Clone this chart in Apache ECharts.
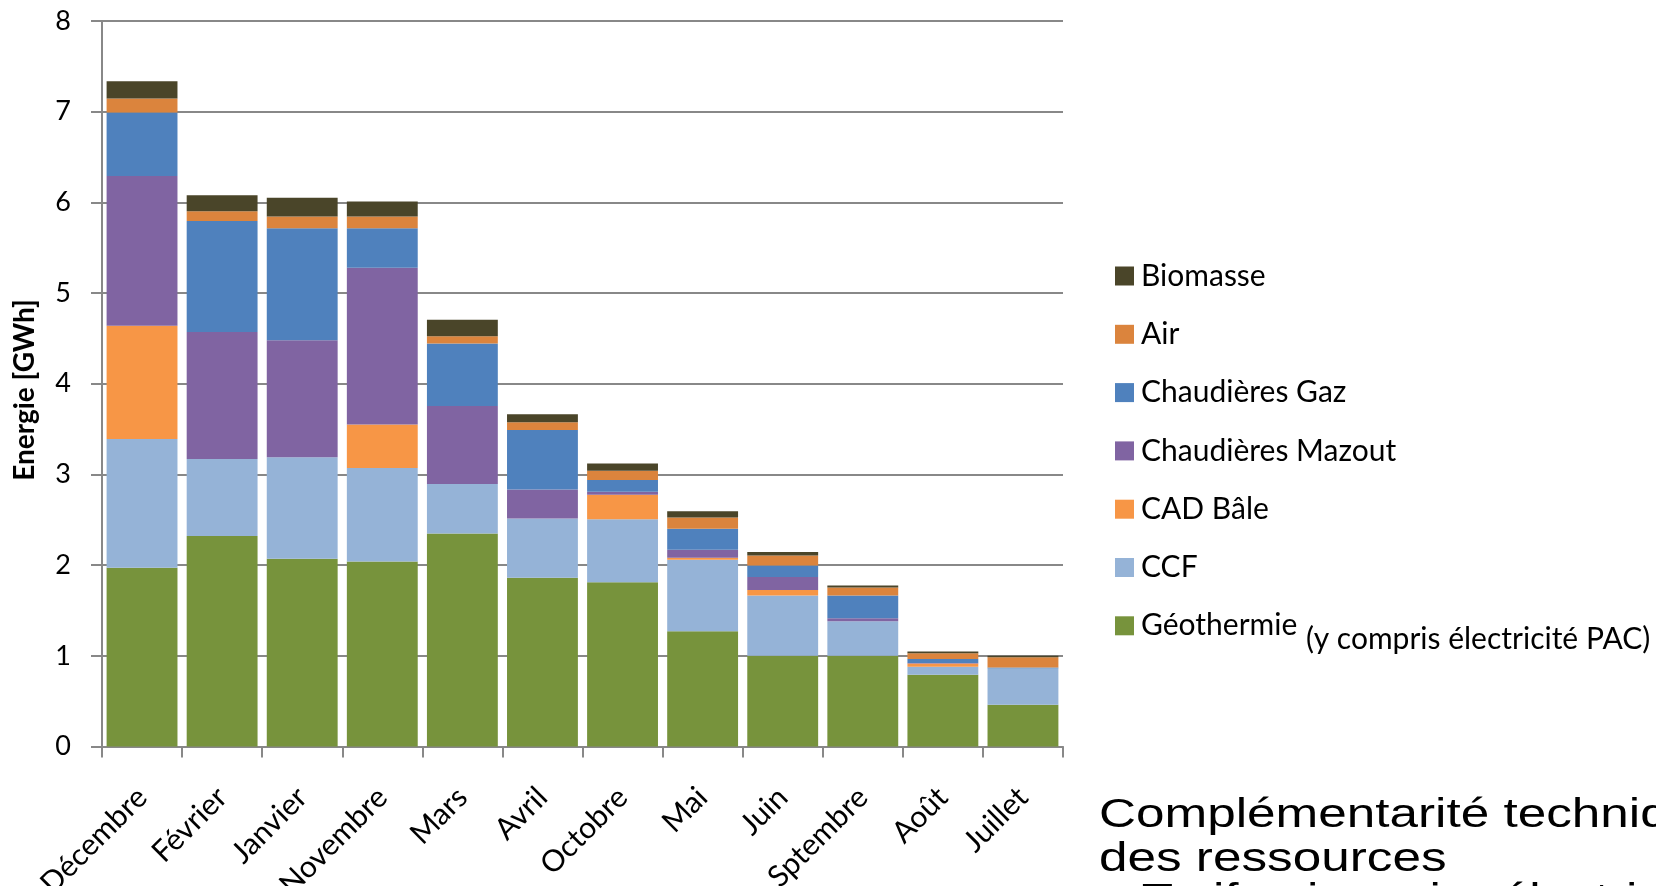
<!DOCTYPE html>
<html>
<head>
<meta charset="utf-8">
<script src="https://cdn.jsdelivr.net/npm/echarts@6/dist/echarts.min.js"></script>
<style>
  html, body { margin: 0; padding: 0; background: #fff; overflow: hidden; }
  #chart { width: 1656px; height: 886px; }
</style>
</head>
<body>
<div id="chart"></div>
<script>
// Monthly heat supply by resource, sorted by total energy
var months = ['Décembre', 'Février', 'Janvier', 'Novembre', 'Mars', 'Avril', 'Octobre', 'Mai', 'Juin', 'Sptembre', 'Août', 'Juillet'];

// Energy per resource [GWh]
var geothermie = [1.97, 2.32, 2.07, 2.04, 2.35, 1.86, 1.81, 1.27, 1.00, 1.00, 0.79, 0.46];
var ccf        = [1.42, 0.85, 1.12, 1.03, 0.545, 0.655, 0.695, 0.79, 0.665, 0.38, 0.09, 0.40];
var cadBale    = [1.25, 0, 0, 0.48, 0, 0, 0.27, 0.02, 0.06, 0, 0.035, 0];
var mazout     = [1.65, 1.40, 1.29, 1.73, 0.86, 0.32, 0.035, 0.09, 0.145, 0.035, 0.005, 0];
var gaz        = [0.70, 1.225, 1.235, 0.435, 0.69, 0.655, 0.13, 0.23, 0.125, 0.25, 0.045, 0.01];
var air        = [0.155, 0.107, 0.13, 0.13, 0.08, 0.085, 0.10, 0.125, 0.11, 0.088, 0.063, 0.115];
var biomasse   = [0.19, 0.176, 0.205, 0.165, 0.18, 0.09, 0.08, 0.07, 0.04, 0.022, 0.02, 0.015];

var yTicks = [0, 8, 1]; // min, max, interval

var seriesDefs = [
  { name: 'Géothermie',        data: geothermie, color: '#77933C' },
  { name: 'CCF',               data: ccf,        color: '#95B3D7' },
  { name: 'CAD Bâle',          data: cadBale,    color: '#F79646' },
  { name: 'Chaudières Mazout', data: mazout,     color: '#8064A2' },
  { name: 'Chaudières Gaz',    data: gaz,        color: '#4F81BD' },
  { name: 'Air',               data: air,        color: '#DB843D' },
  { name: 'Biomasse',          data: biomasse,   color: '#4A4529' }
];

var axisGray = '#888888';
var labelFont = 'Lato, "Noto Sans", sans-serif';
var slideFont = '"Liberation Sans", Arial, sans-serif';

// Slide text next to the chart (drawn slightly widened)
function slideLine(text, x, y) {
  return {
    type: 'text',
    x: x, y: y,
    scaleX: 1.25,
    style: {
      text: text,
      font: '41px ' + slideFont,
      fill: '#000',
      align: 'left',
      verticalAlign: 'middle'
    }
  };
}

var chart = echarts.init(document.getElementById('chart'), null, { renderer: 'canvas' });

chart.setOption({
  backgroundColor: '#ffffff',
  animation: false,
  grid: { left: 102, right: 593, top: 21, bottom: 139.5, containLabel: false, outerBoundsMode: 'none' },
  legend: {
    orient: 'vertical',
    left: 1110,
    top: 256,
    itemWidth: 19,
    itemHeight: 19,
    itemGap: 28.3,
    icon: 'rect',
    data: seriesDefs.map(function (s) { return s.name; }).reverse(),
    textStyle: { fontFamily: labelFont, fontSize: 30, color: '#000', lineHeight: 30, padding: [0, 0, 0, 2] }
  },
  xAxis: {
    type: 'category',
    data: months,
    axisLine: { show: true, lineStyle: { color: axisGray, width: 2 } },
    axisTick: { show: true, length: 11, lineStyle: { color: axisGray, width: 2 } },
    axisLabel: {
      rotate: 45,
      margin: 46,
      interval: 0,
      fontFamily: labelFont,
      fontSize: 30,
      color: '#000'
    },
    splitLine: { show: false }
  },
  yAxis: {
    type: 'value',
    min: yTicks[0],
    max: yTicks[1],
    interval: yTicks[2],
    axisLine: { show: true, lineStyle: { color: axisGray, width: 2 } },
    axisTick: { show: true, length: 11, lineStyle: { color: axisGray, width: 2 } },
    axisLabel: { margin: 31, fontFamily: labelFont, fontSize: 27, color: '#000' },
    splitLine: { show: true, lineStyle: { color: axisGray, width: 2 } }
  },
  series: seriesDefs.map(function (s) {
    return {
      name: s.name,
      type: 'bar',
      stack: 'energie',
      data: s.data,
      barCategoryGap: '11.5%',
      itemStyle: { color: s.color },
      emphasis: { disabled: true }
    };
  }),
  graphic: [
    {
      type: 'text',
      x: 25, y: 390,
      rotation: Math.PI / 2,
      style: {
        text: 'Energie [GWh]',
        font: 'bold 28px ' + labelFont,
        fill: '#000',
        align: 'center',
        verticalAlign: 'middle'
      }
    },
    {
      type: 'text',
      x: 1306, y: 639,
      style: {
        text: '(y compris électricité PAC)',
        font: '30px ' + labelFont,
        fill: '#000',
        align: 'left',
        verticalAlign: 'middle'
      }
    },
    slideLine('Complémentarité technique et économique', 1099, 816),
    slideLine('des ressources', 1099, 860),
    slideLine('– Tarif saisonnier électricité', 1099, 901)
  ]
});
</script>
</body>
</html>
